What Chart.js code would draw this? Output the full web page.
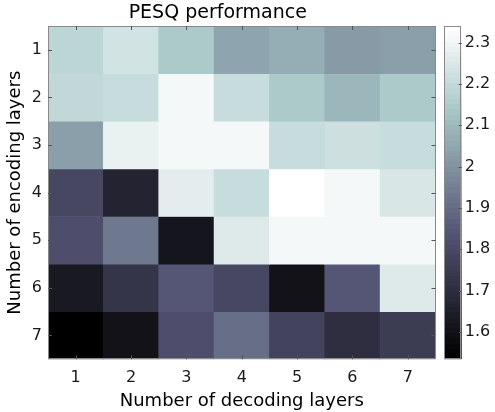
<!DOCTYPE html>
<html>
<head>
<meta charset="utf-8">
<script src="https://cdn.jsdelivr.net/npm/chart.js@4.4.1/dist/chart.umd.min.js"></script>
<style>
html,body{margin:0;padding:0;background:#fff;}
#wrap{position:relative;width:495px;height:412px;}
#wrap canvas{position:absolute;left:0;top:0;}
</style>
</head>
<body>
<div id="wrap">
<canvas id="main" width="495" height="412"></canvas>
<canvas id="cbar" width="495" height="412"></canvas>
</div>
<script>
// ---- data ----
const decodingLabels = ['1','2','3','4','5','6','7'];
const encodingLabels = ['1','2','3','4','5','6','7'];
const pesqEnc1 = [2.184, 2.235, 2.141, 2.041, 2.074, 2.014, 2.034];
const pesqEnc2 = [2.199, 2.209, 2.304, 2.203, 2.141, 2.098, 2.141];
const pesqEnc3 = [2.034, 2.279, 2.304, 2.304, 2.203, 2.219, 2.203];
const pesqEnc4 = [1.794, 1.664, 2.267, 2.203, 2.340, 2.304, 2.243];
const pesqEnc5 = [1.823, 1.926, 1.610, 2.259, 2.304, 2.312, 2.304];
const pesqEnc6 = [1.623, 1.729, 1.838, 1.792, 1.607, 1.838, 2.259];
const pesqEnc7 = [1.534, 1.607, 1.816, 1.910, 1.784, 1.707, 1.752];
const colorbarTicks = [1.6, 1.7, 1.8, 1.9, 2.0, 2.1, 2.2, 2.3];

const rows = [pesqEnc1, pesqEnc2, pesqEnc3, pesqEnc4, pesqEnc5, pesqEnc6, pesqEnc7];
const allVals = rows.flat();
const cMin = Math.min(...allVals);
const cMax = Math.max(...allVals);

// MATLAB "bone" colormap, 64 levels
function bone(x){
  const hr = Math.min(1, x/0.375);
  const hg = x < 0.375 ? 0 : Math.min(1, (x-0.375)/0.375);
  const hb = x < 0.75 ? 0 : (x-0.75)/0.25;
  const r = (7*x + hb)/8, g = (7*x + hg)/8, b = (7*x + hr)/8;
  return 'rgb(' + Math.round(r*255) + ',' + Math.round(g*255) + ',' + Math.round(b*255) + ')';
}
const NLEV = 64;
function colorFor(v){
  let t = (v - cMin)/(cMax - cMin);
  let idx = Math.min(NLEV-1, Math.max(0, Math.floor(t*NLEV)));
  return bone(idx/(NLEV-1));
}

const FONT = '"DejaVu Sans", "Liberation Sans", Arial, sans-serif';
const TXT = '#1a1a1a';
const BOX = '#8a8a8a';

const boxPlugin = {
  id: 'box',
  afterDraw(chart, args, opts){
    const {ctx, chartArea: a} = chart;
    ctx.save();
    ctx.strokeStyle = BOX;
    ctx.lineWidth = 1;
    ctx.strokeRect(Math.round(a.left)+0.5, Math.round(a.top)+0.5, Math.round(a.right-a.left)-1, Math.round(a.bottom-a.top)-1);
    ctx.strokeStyle = '#555';
    const L = opts.len || 4;
    if (opts.xTicks) {
      const xs = chart.scales.x;
      xs.ticks.forEach((t, i) => {
        const px = Math.round(xs.getPixelForTick(i)) + 0.5;
        ctx.beginPath();
        ctx.moveTo(px, a.top); ctx.lineTo(px, a.top + L);
        ctx.moveTo(px, a.bottom); ctx.lineTo(px, a.bottom - L);
        ctx.stroke();
      });
    }
    if (opts.yTicks) {
      const ys = chart.scales.y;
      ys.ticks.forEach((t) => {
        const py = Math.round(ys.getPixelForValue(t.value)) + 0.5;
        ctx.beginPath();
        if (opts.yLeft !== false) { ctx.moveTo(a.left, py); ctx.lineTo(a.left + L, py); }
        ctx.moveTo(a.right, py); ctx.lineTo(a.right - L, py);
        ctx.stroke();
      });
    }
    ctx.restore();
  }
};

// ---- heatmap ----
const datasets = rows.map((vals, r) => ({
  label: 'enc ' + encodingLabels[r],
  data: vals.map(() => [r, r + 1]),
  backgroundColor: vals.map(colorFor),
  borderWidth: 0,
  barPercentage: 1.0,
  categoryPercentage: 1.0
}));

new Chart(document.getElementById('main'), {
  type: 'bar',
  data: { labels: decodingLabels, datasets },
  options: {
    responsive: false,
    animation: false,
    devicePixelRatio: 1,
    layout: { padding: { left: 0, right: 59.5, top: 0, bottom: 0 } },
    plugins: {
      legend: { display: false },
      tooltip: { enabled: false },
      title: {
        display: true,
        text: 'PESQ performance',
        color: '#000',
        font: { family: FONT, size: 19, weight: 'normal', lineHeight: 1.2 },
        padding: { top: 2, bottom: 1.2 }
      },
      box: { xTicks: true, yTicks: true, len: 4 }
    },
    scales: {
      x: {
        stacked: true,
        grid: { display: false, drawTicks: false },
        border: { display: false },
        ticks: { color: TXT, font: { family: FONT, size: 16 }, padding: 9 },
        title: {
          display: true, text: 'Number of decoding layers', color: '#000',
          font: { family: FONT, size: 18, lineHeight: 1.2 }, padding: { top: 0, bottom: 0 }
        },
        afterFit(s){ s.height = 52.7; }
      },
      y: {
        stacked: false,
        min: 0, max: 7, reverse: true,
        grid: { display: false, drawTicks: false },
        border: { display: false },
        afterBuildTicks(s){ s.ticks = encodingLabels.map((_, i) => ({ value: i + 0.5 })); },
        ticks: {
          color: TXT, font: { family: FONT, size: 16 }, padding: 6,
          callback: (v, i) => encodingLabels[i]
        },
        title: {
          display: true, text: 'Number of encoding layers', color: '#000',
          font: { family: FONT, size: 18, lineHeight: 1.2 }, padding: { top: 5, bottom: 0 }
        },
        afterFit(s){ s.width = 48; }
      }
    }
  },
  plugins: [boxPlugin]
});

// ---- colorbar ----
function gradientFill(context){
  const chart = context.chart;
  const a = chart.chartArea;
  if (!a) return '#888';
  const ys = chart.scales.y;
  const yBot = ys.getPixelForValue(cMin), yTop = ys.getPixelForValue(cMax);
  const g = chart.ctx.createLinearGradient(0, yBot, 0, yTop);
  for (let i = 0; i < NLEV; i++) {
    const c = bone(i/(NLEV-1));
    g.addColorStop(i/NLEV, c);
    g.addColorStop((i+1)/NLEV - 1e-6, c);
  }
  return g;
}

new Chart(document.getElementById('cbar'), {
  type: 'bar',
  data: {
    labels: ['PESQ'],
    datasets: [{
      data: [[cMin, cMax]],
      backgroundColor: gradientFill,
      borderWidth: 0,
      barPercentage: 1.0,
      categoryPercentage: 1.0
    }]
  },
  options: {
    responsive: false,
    animation: false,
    devicePixelRatio: 1,
    layout: { padding: { left: 444.3, right: 0, top: 26, bottom: 52.7 } },
    plugins: {
      legend: { display: false },
      tooltip: { enabled: false },
      box: { xTicks: false, yTicks: true, yLeft: false, len: 3 }
    },
    scales: {
      x: { display: false },
      y: {
        position: 'right',
        min: cMin, max: cMax,
        grid: { display: false, drawTicks: false },
        border: { display: false },
        afterBuildTicks(s){ s.ticks = colorbarTicks.map(v => ({ value: v })); },
        ticks: {
          color: TXT, font: { family: FONT, size: 16 }, padding: 3,
          callback: (v) => String(Math.round(v * 10) / 10)
        },
        afterFit(s){ s.width = 33.3; }
      }
    }
  },
  plugins: [boxPlugin]
});
</script>
</body>
</html>
